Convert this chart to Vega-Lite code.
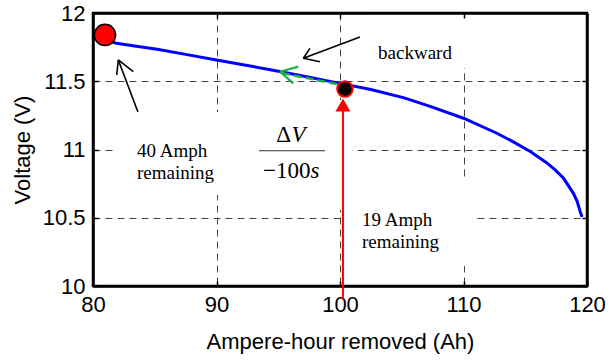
{
  "$schema": "https://vega.github.io/schema/vega-lite/v6.json",
  "width": 494,
  "height": 273,
  "autosize": {"type": "none"},
  "padding": {"left": 93, "top": 13, "right": 21, "bottom": 74},
  "background": "white",
  "config": {
    "view": {"stroke": "black", "strokeWidth": 2.5},
    "axis": {
      "labelFont": "Liberation Sans",
      "labelFontSize": 22,
      "labelColor": "black",
      "labelFlush": false,
      "labelOverlap": false,
      "labelBound": false,
      "titleFont": "Liberation Sans",
      "titleFontSize": 22,
      "titleFontWeight": "normal",
      "titleColor": "black",
      "domainColor": "black",
      "domainWidth": 2.5,
      "tickColor": "black",
      "tickWidth": 1.5,
      "tickSize": -5,
      "gridColor": "#444444",
      "gridOpacity": 1,
      "gridWidth": 1,
      "gridDash": [7, 5]
    }
  },
  "datasets": {
    "curve": [
      {"ah": 81.0, "v": 11.80},
      {"ah": 81.9, "v": 11.778},
      {"ah": 83.5, "v": 11.757},
      {"ah": 85.2, "v": 11.734},
      {"ah": 87.5, "v": 11.697},
      {"ah": 90.0, "v": 11.656},
      {"ah": 92.5, "v": 11.616},
      {"ah": 94.9, "v": 11.575},
      {"ah": 97.3, "v": 11.533},
      {"ah": 99.7, "v": 11.490},
      {"ah": 102.5, "v": 11.440},
      {"ah": 105.2, "v": 11.378},
      {"ah": 107.3, "v": 11.316},
      {"ah": 110.0, "v": 11.229},
      {"ah": 112.7, "v": 11.119},
      {"ah": 114.0, "v": 11.058},
      {"ah": 115.4, "v": 10.985},
      {"ah": 116.7, "v": 10.905},
      {"ah": 117.4, "v": 10.852},
      {"ah": 118.1, "v": 10.789},
      {"ah": 118.9, "v": 10.679},
      {"ah": 119.2, "v": 10.62},
      {"ah": 119.45, "v": 10.545},
      {"ah": 119.6, "v": 10.505}
    ],
    "boxes": [
      {"x": 81.94, "x2": 92.71, "y": 11.275, "y2": 10.667},
      {"x": 92.71, "x2": 100.97, "y": 11.363, "y2": 10.557},
      {"x": 100.40, "x2": 110.93, "y": 10.777, "y2": 10.147},
      {"x": 102.02, "x2": 110.93, "y": 11.99, "y2": 11.597}
    ],
    "segs": [
      {"g": "black", "x": 101.62, "y": 11.824, "x2": 97.03, "y2": 11.668},
      {"g": "black", "x": 97.03, "y": 11.668, "x2": 98.38, "y2": 11.643},
      {"g": "black", "x": 97.03, "y": 11.668, "x2": 97.57, "y2": 11.741},
      {"g": "black", "x": 83.64, "y": 11.275, "x2": 82.05, "y2": 11.656},
      {"g": "black", "x": 82.05, "y": 11.656, "x2": 83.26, "y2": 11.570},
      {"g": "black", "x": 82.05, "y": 11.656, "x2": 81.92, "y2": 11.546},
      {"g": "frac", "x": 93.44, "y": 10.991, "x2": 98.79, "y2": 10.991},
      {"g": "green", "x": 95.14, "y": 11.570, "x2": 96.62, "y2": 11.607},
      {"g": "green", "x": 95.14, "y": 11.570, "x2": 96.22, "y2": 11.485},
      {"g": "greendash", "x": 95.3, "y": 11.560, "x2": 99.8, "y2": 11.478},
      {"g": "red", "x": 100.24, "y": 9.9, "x2": 100.24, "y2": 11.30}
    ],
    "marks": [
      {"id": "start", "x": 80.97, "y": 11.839},
      {"id": "now", "x": 100.4, "y": 11.443},
      {"id": "head", "x": 100.24, "y": 11.326}
    ],
    "texts": [
      {"id": "serif", "t": "backward", "x": 103.08, "y": 11.663},
      {"id": "serif", "t": "40 Amph", "x": 83.56, "y": 10.945},
      {"id": "serif", "t": "remaining", "x": 83.56, "y": 10.784},
      {"id": "serif", "t": "19 Amph", "x": 101.78, "y": 10.440},
      {"id": "serif", "t": "remaining", "x": 101.78, "y": 10.278},
      {"id": "up", "t": "−100", "x": 93.77, "y": 10.791},
      {"id": "it", "t": "V", "x": 96.07, "y": 11.055},
      {"id": "it", "t": "s", "x": 97.61, "y": 10.791},
      {"id": "delta", "t": "Δ", "x": 96.03, "y": 11.055}
    ]
  },
  "layer": [
    {
      "data": {"name": "boxes"},
      "mark": {"type": "rect", "fill": "white", "stroke": null},
      "encoding": {
        "x": {"field": "x", "type": "quantitative", "scale": {"domain": [80, 120], "nice": false, "zero": false},
          "axis": {"orient": "bottom", "values": [80, 90, 100, 110, 120], "grid": true, "labelPadding": 13, "title": "Ampere-hour removed (Ah)", "titleY": 62, "titleBaseline": "alphabetic", "zindex": 0}},
        "x2": {"field": "x2"},
        "y": {"field": "y", "type": "quantitative", "scale": {"domain": [10, 12], "nice": false, "zero": false},
          "axis": {"orient": "left", "values": [10, 10.5, 11, 11.5, 12], "format": "~g", "grid": true, "labelPadding": 13, "title": "Voltage (V)", "titleX": -64, "titleBaseline": "alphabetic", "zindex": 0}},
        "y2": {"field": "y2"}
      }
    },
    {
      "data": {"name": "curve"},
      "mark": {"type": "line", "color": "#0000FF", "strokeWidth": 3},
      "encoding": {
        "x": {"field": "ah", "type": "quantitative", "axis": {"orient": "top", "values": [80, 90, 100, 110, 120], "labels": false, "grid": false, "title": null, "domain": true, "ticks": true, "zindex": 1}},
        "y": {"field": "v", "type": "quantitative", "axis": {"orient": "right", "values": [10, 10.5, 11, 11.5, 12], "labels": false, "grid": false, "title": null, "domain": true, "ticks": true, "zindex": 1}}
      }
    },
    {
      "data": {"name": "segs"},
      "transform": [{"filter": "datum.g === 'greendash'"}],
      "mark": {"type": "rule", "color": "#1fb04a", "strokeWidth": 2.5, "strokeDash": [8, 4]},
      "encoding": {
        "x": {"field": "x", "type": "quantitative", "axis": null},
        "y": {"field": "y", "type": "quantitative", "axis": null},
        "x2": {"field": "x2"},
        "y2": {"field": "y2"}
      }
    },
    {
      "data": {"name": "segs"},
      "transform": [{"filter": "datum.g === 'green'"}],
      "mark": {"type": "rule", "color": "#1fb04a", "strokeWidth": 2.2},
      "encoding": {
        "x": {"field": "x", "type": "quantitative", "axis": null},
        "y": {"field": "y", "type": "quantitative", "axis": null},
        "x2": {"field": "x2"},
        "y2": {"field": "y2"}
      }
    },
    {
      "data": {"name": "segs"},
      "transform": [{"filter": "datum.g === 'black'"}],
      "mark": {"type": "rule", "color": "black", "strokeWidth": 1.6},
      "encoding": {
        "x": {"field": "x", "type": "quantitative", "axis": null},
        "y": {"field": "y", "type": "quantitative", "axis": null},
        "x2": {"field": "x2"},
        "y2": {"field": "y2"}
      }
    },
    {
      "data": {"name": "segs"},
      "transform": [{"filter": "datum.g === 'frac'"}],
      "mark": {"type": "rule", "color": "#333333", "strokeWidth": 1.2},
      "encoding": {
        "x": {"field": "x", "type": "quantitative", "axis": null},
        "y": {"field": "y", "type": "quantitative", "axis": null},
        "x2": {"field": "x2"},
        "y2": {"field": "y2"}
      }
    },
    {
      "data": {"name": "segs"},
      "transform": [{"filter": "datum.g === 'red'"}],
      "mark": {"type": "rule", "color": "#FF0000", "strokeWidth": 2},
      "encoding": {
        "x": {"field": "x", "type": "quantitative", "axis": null},
        "y": {"field": "y", "type": "quantitative", "axis": null},
        "x2": {"field": "x2"},
        "y2": {"field": "y2"}
      }
    },
    {
      "data": {"name": "marks"},
      "transform": [{"filter": "datum.id === 'head'"}],
      "mark": {"type": "point", "shape": "triangle-up", "filled": true, "color": "#FF0000", "opacity": 1, "size": 225},
      "encoding": {
        "x": {"field": "x", "type": "quantitative", "axis": null},
        "y": {"field": "y", "type": "quantitative", "axis": null}
      }
    },
    {
      "data": {"name": "marks"},
      "transform": [{"filter": "datum.id === 'now'"}],
      "mark": {"type": "point", "shape": "circle", "filled": true, "fill": "black", "stroke": "#FF0000", "strokeWidth": 2, "opacity": 1, "size": 240},
      "encoding": {
        "x": {"field": "x", "type": "quantitative", "axis": null},
        "y": {"field": "y", "type": "quantitative", "axis": null}
      }
    },
    {
      "data": {"name": "marks"},
      "transform": [{"filter": "datum.id === 'start'"}],
      "mark": {"type": "point", "shape": "circle", "filled": true, "fill": "#FF0000", "stroke": "black", "strokeWidth": 1.5, "opacity": 1, "size": 450},
      "encoding": {
        "x": {"field": "x", "type": "quantitative", "axis": null},
        "y": {"field": "y", "type": "quantitative", "axis": null}
      }
    },
    {
      "data": {"name": "texts"},
      "transform": [{"filter": "datum.id === 'serif'"}],
      "mark": {"type": "text", "font": "Liberation Serif", "fontSize": 19, "align": "left", "baseline": "alphabetic", "color": "black"},
      "encoding": {
        "x": {"field": "x", "type": "quantitative", "axis": null},
        "y": {"field": "y", "type": "quantitative", "axis": null},
        "text": {"field": "t"}
      }
    },
    {
      "data": {"name": "texts"},
      "transform": [{"filter": "datum.id === 'up'"}],
      "mark": {"type": "text", "font": "Liberation Serif", "fontSize": 23, "align": "left", "baseline": "alphabetic", "color": "black"},
      "encoding": {
        "x": {"field": "x", "type": "quantitative", "axis": null},
        "y": {"field": "y", "type": "quantitative", "axis": null},
        "text": {"field": "t"}
      }
    },
    {
      "data": {"name": "texts"},
      "transform": [{"filter": "datum.id === 'delta'"}],
      "mark": {"type": "text", "font": "Liberation Serif", "fontSize": 23, "align": "right", "baseline": "alphabetic", "color": "black"},
      "encoding": {
        "x": {"field": "x", "type": "quantitative", "axis": null},
        "y": {"field": "y", "type": "quantitative", "axis": null},
        "text": {"field": "t"}
      }
    },
    {
      "data": {"name": "texts"},
      "transform": [{"filter": "datum.id === 'it'"}],
      "mark": {"type": "text", "font": "Liberation Serif", "fontSize": 23, "fontStyle": "italic", "align": "left", "baseline": "alphabetic", "color": "black"},
      "encoding": {
        "x": {"field": "x", "type": "quantitative", "axis": null},
        "y": {"field": "y", "type": "quantitative", "axis": null},
        "text": {"field": "t"}
      }
    }
  ],
  "resolve": {"axis": {"x": "independent", "y": "independent"}}
}
